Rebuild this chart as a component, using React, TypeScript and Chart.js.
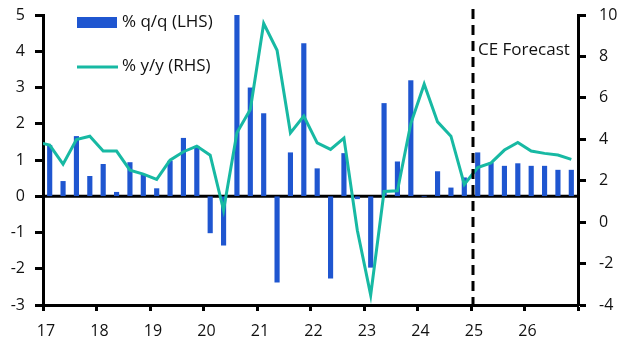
import React, { useEffect, useRef } from "react";
import { Chart, registerables } from "chart.js";

Chart.register(...registerables);

// Quarterly data, 2017Q1 .. 2026Q4
const START_YEAR = 2017;
const END_YEAR = 2027;
const FORECAST_START = 2025;

const qoqLabel = "% q/q (LHS)";
const yoyLabel = "% y/y (RHS)";
const forecastLabel = "CE Forecast";

// % q/q (left axis)
const qoq = [
  1.4, 0.41, 1.65, 0.55,
  0.88, 0.11, 0.93, 0.6,
  0.21, 0.97, 1.6, 1.38,
  -1.01, -1.35, 5.0, 2.99,
  2.28, -2.37, 1.2, 4.21,
  0.76, -2.26, 1.18, -0.07,
  -1.96, 2.56, 0.95, 3.19,
  0, 0.68, 0.23, 0.51,
  1.2, 0.92, 0.83, 0.9,
  0.83, 0.83, 0.72, 0.72,
];

// % y/y (right axis); previous quarter (2016Q4) then 2017Q1 .. 2026Q4
const yoyPrev = 3.88;
const yoy = [
  3.72, 2.8, 3.99, 4.15,
  3.43, 3.43, 2.51, 2.32,
  2.06, 2.99, 3.4, 3.67,
  3.23, 0.58, 4.31, 5.44,
  9.59, 8.3, 4.31, 5.12,
  3.83, 3.51, 4.06, -0.39,
  -3.52, 1.48, 1.51, 4.76,
  6.66, 4.84, 4.15, 1.82,
  2.64, 2.86, 3.48, 3.85,
  3.43, 3.32, 3.24, 3.03,
];

const BAR_COLOR = "#1F56D0";
const LINE_COLOR = "#17B9A3";
const FONT = "'Open Sans', 'DejaVu Sans', sans-serif";

const quarterX = (i: number) => START_YEAR + (i + 0.5) / 4;

export default function App() {
  const ref = useRef<HTMLCanvasElement | null>(null);

  useEffect(() => {
    if (!ref.current) return;
    const barData = qoq.map((v, i) => ({ x: quarterX(i), y: v }));
    const lineData = [{ x: quarterX(-1), y: yoyPrev }].concat(
      yoy.map((v, i) => ({ x: quarterX(i), y: v }))
    );

    const overlay = {
      id: "overlay",
      beforeDatasetsDraw(chart: any) {
        const { ctx, chartArea } = chart;
        const y0 = chart.scales.y.getPixelForValue(0);
        ctx.save();
        ctx.strokeStyle = "#000";
        ctx.lineWidth = 3;
        ctx.beginPath();
        ctx.moveTo(chartArea.left, y0);
        ctx.lineTo(chartArea.right, y0);
        ctx.stroke();
        ctx.restore();
      },
      afterDraw(chart: any) {
        const { ctx, chartArea } = chart;
        const xf = chart.scales.x.getPixelForValue(FORECAST_START) + 2;
        ctx.save();
        ctx.strokeStyle = "#000";
        ctx.lineWidth = 3;
        ctx.setLineDash([10, 6]);
        ctx.beginPath();
        ctx.moveTo(xf, 9);
        ctx.lineTo(xf, chartArea.bottom);
        ctx.stroke();
        ctx.setLineDash([]);

        ctx.fillStyle = "#111";
        ctx.font = `17px ${FONT}`;
        ctx.textBaseline = "middle";
        ctx.textAlign = "left";
        ctx.fillText(forecastLabel, xf + 5, 50);

        // legend
        ctx.fillStyle = BAR_COLOR;
        ctx.fillRect(77, 17, 40, 11);
        ctx.fillStyle = "#111";
        ctx.fillText(qoqLabel, 122, 22);
        ctx.strokeStyle = LINE_COLOR;
        ctx.lineWidth = 3;
        ctx.beginPath();
        ctx.moveTo(77, 67);
        ctx.lineTo(118, 67);
        ctx.stroke();
        ctx.fillStyle = "#111";
        ctx.fillText(yoyLabel, 122, 66);
        ctx.restore();
      },
    };

    const vFit = (w: number) => (s: any) => {
      s.width = w;
      s.paddingTop = 0;
      s.paddingBottom = 0;
    };

    const chart = new Chart(ref.current, {
      type: "bar",
      data: {
        datasets: [
          {
            type: "line",
            label: yoyLabel,
            data: lineData,
            yAxisID: "y1",
            borderColor: LINE_COLOR,
            borderWidth: 3,
            pointRadius: 0,
            tension: 0,
            order: 0,
          } as any,
          {
            type: "bar",
            label: qoqLabel,
            data: barData,
            yAxisID: "y",
            backgroundColor: BAR_COLOR,
            barThickness: 4.5,
            order: 1,
          } as any,
        ],
      },
      options: {
        responsive: false,
        animation: false,
        layout: { padding: { top: 15, left: 0, right: 0, bottom: 0 } },
        plugins: {
          legend: { display: false },
          tooltip: { enabled: false },
        },
        scales: {
          x: {
            type: "linear",
            min: START_YEAR,
            max: END_YEAR,
            offset: false,
            afterFit: (s: any) => {
              s.height = 51;
              s.paddingLeft = 0;
              s.paddingRight = 0;
            },
            ticks: {
              stepSize: 1,
              autoSkip: false,
              maxRotation: 0,
              padding: 11,
              labelOffset: 3,
              color: "#111",
              font: { family: FONT, size: 16 },
              callback: (v: any) => (Number(v) < END_YEAR ? String(v).slice(2) : ""),
            },
            grid: {
              offset: false,
              drawOnChartArea: false,
              tickLength: 6,
              tickWidth: 3,
              tickColor: "#000",
            },
            border: { color: "#000", width: 3 },
          },
          y: {
            position: "left",
            min: -3,
            max: 5,
            afterFit: vFit(43),
            ticks: {
              stepSize: 1,
              padding: 10,
              color: "#111",
              font: { family: FONT, size: 16 },
            },
            grid: {
              drawOnChartArea: false,
              tickLength: 8,
              tickWidth: 3,
              tickColor: "#000",
            },
            border: { color: "#000", width: 3 },
          },
          y1: {
            position: "right",
            min: -4,
            max: 10,
            afterFit: vFit(54),
            ticks: {
              stepSize: 2,
              padding: 13,
              color: "#111",
              font: { family: FONT, size: 16 },
            },
            grid: {
              drawOnChartArea: false,
              tickLength: 8,
              tickWidth: 3,
              tickColor: "#000",
            },
            border: { color: "#000", width: 3 },
          },
        },
      } as any,
      plugins: [overlay],
    });
    return () => chart.destroy();
  }, []);

  return (
    <div style={{ position: "absolute", left: 0, top: 0, width: 632, height: 356, background: "#fff" }}>
      <canvas ref={ref} width={632} height={356} />
    </div>
  );
}
